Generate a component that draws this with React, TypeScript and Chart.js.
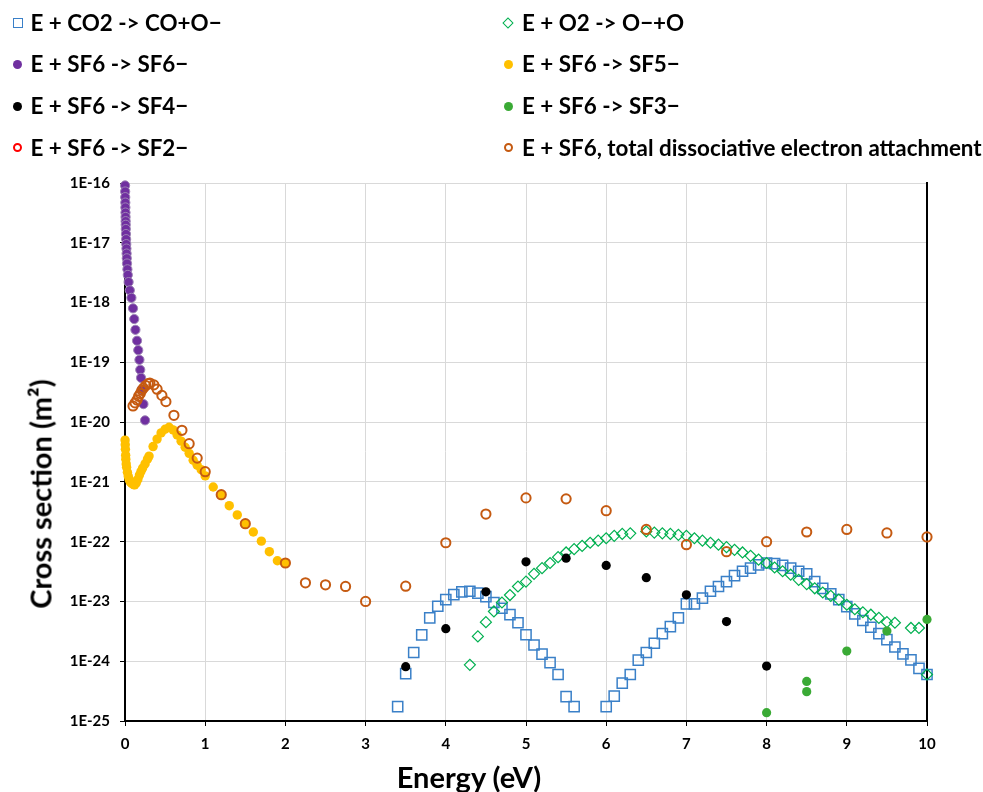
import React, { useEffect, useRef } from "react";
import { Chart, registerables } from "chart.js";

Chart.register(...registerables);

const FONT = "Lato, 'Open Sans', sans-serif";

// ---- axis ticks ----
const xTickValues = [0, 1, 2, 3, 4, 5, 6, 7, 8, 9, 10];
const yTickValues = [1e-25, 1e-24, 1e-23, 1e-22, 1e-21, 1e-20, 1e-19, 1e-18, 1e-17, 1e-16];
const yTickLabels = ["1E-25", "1E-24", "1E-23", "1E-22", "1E-21", "1E-20", "1E-19", "1E-18", "1E-17", "1E-16"];

const xTitle = "Energy (eV)";
const yTitle = "Cross section (m\u00B2)";

// ---- series labels (legend order, row-major in two columns) ----
const seriesLabels = [
  "E + CO2 -> CO+O\u2212",
  "E + O2 -> O\u2212+O",
  "E + SF6 -> SF6\u2212",
  "E + SF6 -> SF5\u2212",
  "E + SF6 -> SF4\u2212",
  "E + SF6 -> SF3\u2212",
  "E + SF6 -> SF2\u2212",
  "E + SF6, total dissociative electron attachment",
];

// ---- E + CO2 -> CO + O- ----
const co2Energy = [
  3.4, 3.5, 3.6, 3.7, 3.8, 3.9, 4.0, 4.1, 4.2, 4.3, 4.4, 4.5, 4.6, 4.7, 4.8, 4.9, 5.0, 5.1, 5.2, 5.3, 5.4, 5.5, 5.6,
  6.0, 6.1, 6.2, 6.3, 6.4, 6.5, 6.6, 6.7, 6.8, 6.9, 7.0, 7.1, 7.2, 7.3, 7.4, 7.5, 7.6, 7.7, 7.8, 7.9,
  8.0, 8.1, 8.2, 8.3, 8.4, 8.5, 8.6, 8.7, 8.8, 8.9, 9.0, 9.1, 9.2, 9.3, 9.4, 9.5, 9.6, 9.7, 9.8, 9.9, 10.0,
];
const co2Sigma = [
  1.74e-25, 6.2e-25, 1.4e-24, 2.75e-24, 5.3e-24, 8.3e-24, 1.07e-23, 1.3e-23, 1.45e-23, 1.48e-23, 1.38e-23, 1.2e-23,
  9.6e-24, 7.7e-24, 6.0e-24, 4.4e-24, 2.77e-24, 1.87e-24, 1.31e-24, 9.5e-25, 6.0e-25, 2.55e-25, 1.74e-25,
  1.74e-25, 2.6e-25, 4.3e-25, 6.0e-25, 1.04e-24, 1.4e-24, 2.0e-24, 2.9e-24, 3.8e-24, 5.3e-24, 9.1e-24, 9.1e-24,
  1.14e-23, 1.48e-23, 1.78e-23, 2.15e-23, 2.7e-23, 3.2e-23, 3.6e-23, 4.1e-23,
  4.4e-23, 4.3e-23, 4.0e-23, 3.6e-23, 3.2e-23, 2.9e-23, 2.15e-23, 1.66e-23, 1.34e-23, 1.07e-23, 8.2e-24, 6.2e-24,
  4.8e-24, 3.7e-24, 2.9e-24, 2.3e-24, 1.73e-24, 1.33e-24, 1.05e-24, 7.6e-25, 6.0e-25,
];

// ---- E + O2 -> O- + O ----
const o2Energy = [
  4.3, 4.4, 4.5, 4.6, 4.7, 4.8, 4.9, 5.0, 5.1, 5.2, 5.3, 5.4, 5.5, 5.6, 5.7, 5.8, 5.9, 6.0, 6.1, 6.2, 6.3,
  6.5, 6.6, 6.7, 6.8, 6.9, 7.0, 7.1, 7.2, 7.3, 7.4, 7.5, 7.6, 7.7, 7.8, 7.9, 8.0, 8.1, 8.2, 8.3, 8.4, 8.5,
  8.6, 8.7, 8.8, 8.9, 9.0, 9.1, 9.2, 9.3, 9.4, 9.5, 9.6, 9.8, 9.9, 10.0,
];
const o2Sigma = [
  8.7e-25, 2.6e-24, 4.5e-24, 6.8e-24, 9.6e-24, 1.28e-23, 1.78e-23, 2.15e-23, 2.9e-23, 3.6e-23, 4.4e-23, 5.5e-23,
  6.6e-23, 7.5e-23, 8.5e-23, 9.6e-23, 1.04e-22, 1.14e-22, 1.25e-22, 1.35e-22, 1.38e-22,
  1.48e-22, 1.42e-22, 1.38e-22, 1.35e-22, 1.3e-22, 1.25e-22, 1.14e-22, 1.04e-22, 9.6e-23, 8.9e-23, 8.1e-23,
  7.3e-23, 6.6e-23, 5.8e-23, 5.0e-23, 4.4e-23, 3.7e-23, 3.2e-23, 2.8e-23, 2.3e-23, 1.95e-23,
  1.66e-23, 1.41e-23, 1.24e-23, 1.07e-23, 8.8e-24, 7.4e-24, 6.6e-24, 6.0e-24, 5.3e-24, 4.5e-24, 4.4e-24,
  3.6e-24, 3.6e-24, 6.0e-25,
];

// ---- E + SF6 -> SF6- ----
const sf6Energy = [
  0.001, 0.002, 0.003, 0.004, 0.005, 0.006, 0.007, 0.008, 0.009, 0.01, 0.012, 0.014, 0.016, 0.018, 0.02,
  0.022, 0.025, 0.03, 0.035, 0.045, 0.06, 0.08, 0.1, 0.115, 0.13, 0.15, 0.165, 0.18, 0.19, 0.2, 0.21, 0.23, 0.25,
];
const sf6Sigma = [
  9.1e-17, 7.2e-17, 5.8e-17, 4.7e-17, 3.9e-17, 3.2e-17, 2.7e-17, 2.3e-17, 2.0e-17, 1.7e-17, 1.4e-17, 1.15e-17,
  9.5e-18, 8.0e-18, 6.6e-18, 5.5e-18, 4.5e-18, 3.6e-18, 2.9e-18, 2.2e-18, 1.6e-18, 1.2e-18, 8.0e-19, 5.3e-19,
  3.5e-19, 2.3e-19, 1.6e-19, 1.1e-19, 7.5e-20, 5.5e-20, 3.5e-20, 2.0e-20, 1.07e-20,
];

// ---- E + SF6 -> SF5- ----
const sf5Energy = [
  0.001, 0.003, 0.005, 0.008, 0.01, 0.015, 0.02, 0.03, 0.04, 0.05, 0.06, 0.07, 0.08, 0.09, 0.1, 0.11, 0.12,
  0.14, 0.16, 0.18, 0.2, 0.22, 0.25, 0.28, 0.3, 0.35, 0.4, 0.45, 0.5, 0.55, 0.6, 0.65, 0.7, 0.75, 0.8, 0.85,
  0.9, 0.95, 1.0, 1.1, 1.2, 1.3, 1.4, 1.5, 1.6, 1.7, 1.8, 1.9, 2.0,
];
const sf5Sigma = [
  5.0e-21, 4.2e-21, 3.5e-21, 2.8e-21, 2.4e-21, 2.0e-21, 1.75e-21, 1.45e-21, 1.25e-21, 1.12e-21, 1.04e-21,
  9.9e-22, 9.6e-22, 9.4e-22, 9.2e-22, 9.0e-22, 8.9e-22, 9.6e-22, 1.1e-21, 1.3e-21, 1.5e-21, 1.7e-21, 2.0e-21,
  2.4e-21, 2.7e-21, 3.9e-21, 5.2e-21, 6.6e-21, 7.6e-21, 8.2e-21, 7.4e-21, 6.1e-21, 4.8e-21, 3.8e-21, 3.0e-21,
  2.3e-21, 1.9e-21, 1.6e-21, 1.26e-21, 8.2e-22, 6.0e-22, 4.0e-22, 2.8e-22, 2.0e-22, 1.45e-22, 1.02e-22,
  6.8e-23, 4.8e-23, 4.4e-23,
];

// ---- E + SF6 -> SF4- ----
const sf4Energy = [3.5, 4.0, 4.5, 5.0, 5.5, 6.0, 6.5, 7.0, 7.5, 8.0];
const sf4Sigma = [8.1e-25, 3.5e-24, 1.45e-23, 4.6e-23, 5.3e-23, 4.0e-23, 2.5e-23, 1.29e-23, 4.6e-24, 8.3e-25];

// ---- E + SF6 -> SF3- ----
const sf3Energy = [8.0, 8.5, 8.5, 9.0, 9.5, 10.0];
const sf3Sigma = [1.38e-25, 4.6e-25, 3.1e-25, 1.48e-24, 3.2e-24, 5.0e-24];

// ---- E + SF6 -> SF2- (no points visible) ----
const sf2Energy: number[] = [];
const sf2Sigma: number[] = [];

// ---- E + SF6, total dissociative attachment ----
const totalEnergy = [
  0.1, 0.125, 0.15, 0.17, 0.19, 0.21, 0.23, 0.26, 0.29, 0.31, 0.36, 0.4, 0.46, 0.51, 0.61, 0.71, 0.8, 0.9,
  1.0, 1.2, 1.5, 2.0, 2.25, 2.5, 2.75, 3.0, 3.5, 4.0, 4.5, 5.0, 5.5, 6.0, 6.5, 7.0, 7.5, 8.0, 8.5, 9.0, 9.5, 10.0,
];
const totalSigma = [
  1.86e-20, 2.1e-20, 2.35e-20, 2.7e-20, 3.0e-20, 3.4e-20, 3.7e-20, 4.1e-20, 4.4e-20, 4.5e-20, 4.2e-20,
  3.55e-20, 2.8e-20, 2.2e-20, 1.3e-20, 7.3e-21, 4.35e-21, 2.5e-21, 1.48e-21, 6.1e-22, 2.0e-22, 4.4e-23,
  2.05e-23, 1.9e-23, 1.78e-23, 1.0e-23, 1.8e-23, 9.6e-23, 2.9e-22, 5.4e-22, 5.2e-22, 3.3e-22, 1.6e-22,
  8.9e-23, 6.8e-23, 1.0e-22, 1.45e-22, 1.6e-22, 1.4e-22, 1.2e-22,
];

type Marker = { shape: "square" | "diamond" | "dot" | "ring"; color: string };
const markers: Marker[] = [
  { shape: "square", color: "#3a80c8" },
  { shape: "diamond", color: "#00b050" },
  { shape: "dot", color: "#7030a0" },
  { shape: "dot", color: "#ffc000" },
  { shape: "dot", color: "#000000" },
  { shape: "dot", color: "#3aaa35" },
  { shape: "ring", color: "#ff0000" },
  { shape: "ring", color: "#c55a11" },
];

const pts = (xs: number[], ys: number[]) => xs.map((x, i) => ({ x, y: ys[i] }));

function LegendMarker({ m }: { m: Marker }) {
  const base: React.CSSProperties = { display: "inline-block", boxSizing: "border-box" };
  if (m.shape === "square")
    return <span style={{ ...base, width: 10, height: 10, border: `1.5px solid ${m.color}` }} />;
  if (m.shape === "diamond")
    return (
      <span
        style={{ ...base, width: 8, height: 8, border: `1.2px solid ${m.color}`, transform: "rotate(45deg)" }}
      />
    );
  if (m.shape === "dot")
    return <span style={{ ...base, width: 9, height: 9, borderRadius: "50%", background: m.color }} />;
  return <span style={{ ...base, width: 9, height: 9, borderRadius: "50%", border: `2px solid ${m.color}` }} />;
}

export default function App() {
  const canvasRef = useRef<HTMLCanvasElement | null>(null);

  useEffect(() => {
    const canvas = canvasRef.current;
    if (!canvas) return;
    const font = { family: FONT, size: 15, weight: "bold" as const };
    const chart = new Chart(canvas, {
      type: "scatter",
      data: {
        datasets: [
          {
            label: seriesLabels[7],
            data: pts(totalEnergy, totalSigma),
            pointStyle: "circle",
            pointRadius: 4.6,
            borderWidth: 2,
            borderColor: markers[7].color,
            backgroundColor: "rgba(0,0,0,0)",
            order: 0,
          },
          {
            label: seriesLabels[4],
            data: pts(sf4Energy, sf4Sigma),
            pointStyle: "circle",
            pointRadius: 4.6,
            borderWidth: 0,
            backgroundColor: markers[4].color,
            borderColor: markers[4].color,
            order: 1,
          },
          {
            label: seriesLabels[5],
            data: pts(sf3Energy, sf3Sigma),
            pointStyle: "circle",
            pointRadius: 4.6,
            borderWidth: 0,
            backgroundColor: markers[5].color,
            borderColor: markers[5].color,
            order: 2,
          },
          {
            label: seriesLabels[6],
            data: pts(sf2Energy, sf2Sigma),
            pointStyle: "circle",
            pointRadius: 4.6,
            borderWidth: 2,
            borderColor: markers[6].color,
            backgroundColor: "rgba(0,0,0,0)",
            order: 3,
          },
          {
            label: seriesLabels[1],
            data: pts(o2Energy, o2Sigma),
            pointStyle: "rectRot",
            pointRadius: 5.5,
            borderWidth: 1.2,
            borderColor: markers[1].color,
            backgroundColor: "rgba(0,0,0,0)",
            order: 4,
          },
          {
            label: seriesLabels[0],
            data: pts(co2Energy, co2Sigma),
            pointStyle: "rect",
            pointRadius: 7.2,
            borderWidth: 1.5,
            borderColor: markers[0].color,
            backgroundColor: "rgba(0,0,0,0)",
            order: 5,
          },
          {
            label: seriesLabels[3],
            data: pts(sf5Energy, sf5Sigma),
            pointStyle: "circle",
            pointRadius: 4.7,
            borderWidth: 0,
            backgroundColor: markers[3].color,
            borderColor: markers[3].color,
            order: 6,
          },
          {
            label: seriesLabels[2],
            data: pts(sf6Energy, sf6Sigma),
            pointStyle: "circle",
            pointRadius: 4.6,
            borderWidth: 1,
            backgroundColor: markers[2].color,
            borderColor: "#9d84b5",
            order: 7,
          },
        ] as any,
      },
      options: {
        responsive: false,
        animation: false,
        devicePixelRatio: 1,
        clip: false as any,
        layout: { padding: { top: 183, right: 56, bottom: 0, left: 0 } },
        plugins: { legend: { display: false }, tooltip: { enabled: false } },
        elements: { point: { hoverRadius: 0 } },
        scales: {
          x: {
            type: "linear",
            min: 0,
            max: 10,
            afterBuildTicks: (s: any) => {
              s.ticks = xTickValues.map((v) => ({ value: v }));
            },
            afterFit: (s: any) => {
              s.height = 71;
            },
            grid: { color: "#d9d9d9", tickColor: "#000", tickLength: 5, lineWidth: 1 },
            border: { color: "#000", width: 2 },
            ticks: { color: "#000", font, padding: 9, maxRotation: 0 },
          },
          y: {
            type: "logarithmic",
            min: 1e-25,
            max: 1e-16,
            afterBuildTicks: (s: any) => {
              s.ticks = yTickValues.map((v) => ({ value: v }));
            },
            afterFit: (s: any) => {
              s.width = 125;
            },
            grid: { color: "#d9d9d9", tickColor: "#000", tickLength: 5, lineWidth: 1 },
            border: { color: "#000", width: 2 },
            ticks: {
              color: "#000",
              font,
              padding: 10,
              autoSkip: false,
              callback: (_v: any, i: number) => yTickLabels[i],
            },
          },
          y2: {
            type: "linear",
            position: "right",
            min: 0,
            max: 1,
            afterFit: (s: any) => {
              s.width = 0;
            },
            grid: { drawOnChartArea: false, drawTicks: false },
            border: { color: "#000", width: 2 },
            ticks: { display: false },
          },
        },
      } as any,
    });
    return () => chart.destroy();
  }, []);

  const rowCenters = [22.5, 64, 106, 147.5];
  const colMarkerX = [17.5, 508];
  const colTextX = [30.5, 522];

  return (
    <div
      style={{
        position: "absolute",
        left: 0,
        top: 0,
        width: 983,
        height: 792,
        background: "#fff",
        overflow: "hidden",
        fontFamily: FONT,
      }}
    >
      <canvas
        ref={canvasRef}
        width={983}
        height={792}
        style={{ position: "absolute", left: 0, top: 0, width: 983, height: 792, display: "block" }}
      />
      {seriesLabels.map((label, i) => {
        const col = i % 2;
        const row = Math.floor(i / 2);
        const cy = rowCenters[row];
        return (
          <React.Fragment key={label}>
            <div
              style={{
                position: "absolute",
                left: colMarkerX[col] - 6,
                top: cy - 6,
                width: 12,
                height: 12,
                display: "flex",
                alignItems: "center",
                justifyContent: "center",
              }}
            >
              <LegendMarker m={markers[i]} />
            </div>
            <div
              style={{
                position: "absolute",
                left: colTextX[col],
                top: cy - 11,
                height: 22,
                lineHeight: "22px",
                fontSize: 22.4,
                fontWeight: 700,
                color: "#000",
                whiteSpace: "nowrap",
              }}
            >
              {label}
            </div>
          </React.Fragment>
        );
      })}
      <div
        style={{
          position: "absolute",
          left: 469,
          top: 776,
          transform: "translate(-50%, -50%)",
          fontSize: 29,
          lineHeight: "29px",
          fontWeight: 700,
          whiteSpace: "nowrap",
          color: "#000",
        }}
      >
        {xTitle}
      </div>
      <div
        style={{
          position: "absolute",
          left: 40,
          top: 494,
          transform: "translate(-50%, -50%) rotate(-90deg)",
          fontSize: 29,
          lineHeight: "29px",
          fontWeight: 700,
          whiteSpace: "nowrap",
          color: "#000",
        }}
      >
        {yTitle}
      </div>
    </div>
  );
}
